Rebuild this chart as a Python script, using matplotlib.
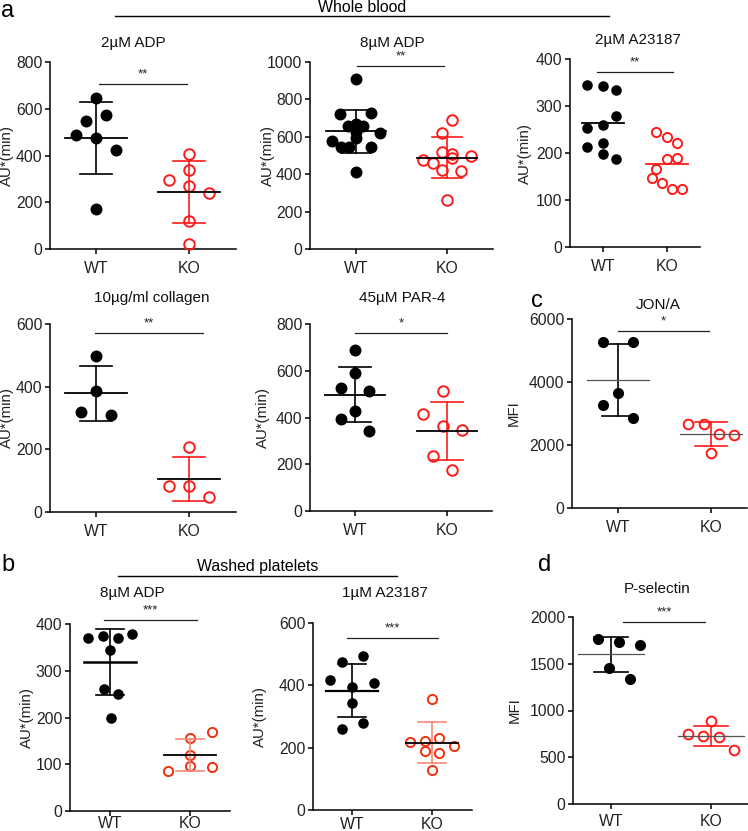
import numpy as np
import matplotlib
matplotlib.use('Agg')
import matplotlib.pyplot as plt
from matplotlib.lines import Line2D

plt.rcParams['font.family'] = ['Liberation Sans', 'DejaVu Sans']

W, H = 748, 831
fig = plt.figure(figsize=(W / 100, H / 100), dpi=100)

groups = ['WT', 'KO']

# ---------------- data ----------------
adp2_wt = [646, 548, 575, 489, 476, 422, 170]
adp2_wt_dx = [0, -0.11, 0.11, -0.22, 0, 0.22, 0]
adp2_ko = [408, 339, 297, 271, 240, 120, 20]
adp2_ko_dx = [0, 0, -0.22, 0, 0.22, 0, 0]

adp8_wt = [909, 720, 726, 660, 667, 660, 627, 619, 578, 547, 547, 547, 410, 592]
adp8_wt_dx = [0, -0.18, 0.17, -0.09, 0, 0.08, 0, 0.26, -0.26, -0.17, -0.08, 0.17, 0, 0]
adp8_ko = [690, 622, 520, 506, 488, 499, 476, 461, 422, 417, 262]
adp8_ko_dx = [0.05, -0.05, -0.05, 0.05, 0.05, 0.26, -0.26, -0.15, -0.05, 0.15, 0]

a23_2_wt = [345, 343, 333, 279, 254, 259, 213, 221, 198, 188]
a23_2_wt_dx = [-0.245, 0, 0.21, 0.21, -0.245, 0, -0.245, 0, 0, 0.21]
a23_2_ko = [245, 235, 221, 187, 190, 167, 146, 136, 124, 124]
a23_2_ko_dx = [-0.17, 0, 0.16, 0, 0.16, -0.17, -0.24, -0.08, 0.08, 0.24]

coll_wt = [499, 385, 320, 310]
coll_wt_dx = [0, 0, -0.166, 0.166]
coll_ko = [206, 82, 82, 47]
coll_ko_dx = [0, -0.22, 0, 0.22]

par4_wt = [687, 589, 528, 515, 429, 392, 344]
par4_wt_dx = [0, 0, -0.156, 0.156, 0, -0.156, 0.156]
par4_ko = [515, 414, 365, 347, 235, 175]
par4_ko_dx = [-0.04, -0.26, -0.04, 0.16, -0.15, 0.05]

jon_wt = [5267, 5257, 3664, 3260, 2846]
jon_wt_dx = [-0.16, 0.16, 0, -0.16, 0.16]
jon_ko = [2665, 2665, 2347, 2304, 1731]
jon_ko_dx = [-0.245, -0.08, 0.09, 0.25, 0]

wadp8_wt = [371, 375, 369, 379, 344, 261, 251, 198]
wadp8_wt_dx = [-0.27, -0.09, 0.1, 0.28, 0, -0.08, 0.1, 0.01]
wadp8_ko = [157, 168, 120, 86, 96, 94]
wadp8_ko_dx = [0, 0.27, 0, -0.27, 0, 0.27]

wa23_wt = [493, 474, 418, 407, 395, 342, 278, 259]
wa23_wt_dx = [0.14, -0.13, -0.27, 0.27, 0, 0, 0.14, -0.13]
wa23_ko = [356, 217, 222, 230, 205, 189, 182, 128]
wa23_ko_dx = [0, -0.275, -0.09, 0.09, 0.275, -0.09, 0.09, 0]

psel_wt = [1769, 1733, 1705, 1459, 1342]
psel_wt_dx = [-0.127, 0.083, 0.29, -0.02, 0.19]
psel_ko = [886, 744, 726, 712, 577]
psel_ko_dx = [0, -0.227, -0.077, 0.083, 0.233]

RED = '#ff1a1a'
RED2 = '#f2300f'
SALMON = '#f58a78'


def fx(px):
    return px / W


def fy(py):
    return 1 - py / H


def panel(L, R, T, B, wtpx, kopx, ymax, ystep, title, tpos, ylabel, ylx,
          wt, wtdx, ko, kodx, sig, stars, ms=8.6, red=RED,
          wt_err='k', ko_err=RED, wt_mean='k', ko_mean='k', mean_lw=1.3,
          err=True, wt_mean_lw=None, xpad=5):
    ax = fig.add_axes([fx(L), fy(B), (R - L) / W, (B - T) / H])
    sp = kopx - wtpx
    ax.set_xlim((L - wtpx) / sp, (R - wtpx) / sp)
    ax.set_ylim(0, ymax)
    ax.set_yticks(np.arange(0, ymax + 1, ystep))
    ax.set_xticks([0, 1])
    ax.set_xticklabels(groups)
    for s in ['top', 'right']:
        ax.spines[s].set_visible(False)
    for s in ['left', 'bottom']:
        ax.spines[s].set_linewidth(1.1)
    ax.tick_params(axis='both', length=3.5, width=1.1, labelsize=11.3,
                   labelcolor='#222222', pad=2)
    ax.tick_params(axis='x', pad=xpad)
    ax.set_ylabel(ylabel, fontsize=10.8, color='#222222')
    ax.yaxis.label.set_va('center')
    ax.yaxis.set_label_coords((ylx - L) / (R - L), 0.5)
    ax.patch.set_alpha(0)

    ax.plot(0 + np.array(wtdx), wt, 'o', ms=ms, color='k', mec='k',
            mew=0, zorder=3, clip_on=False)
    ax.plot(1 + np.array(kodx), ko, 'o', ms=ms - 1.0, mfc='none', mec=red,
            mew=1.4, zorder=3, clip_on=False)

    for x, vals, ec, mc, mlw in [(0, wt, wt_err, wt_mean, wt_mean_lw or mean_lw),
                                 (1, ko, ko_err, ko_mean, mean_lw)]:
        m = np.mean(vals)
        sd = np.std(vals, ddof=1)
        if err:
            ax.plot([x, x], [m - sd, m + sd], color=ec, lw=1.2, zorder=4)
            for yy in (m - sd, m + sd):
                ax.plot([x - 0.17, x + 0.17], [yy, yy], color=ec, lw=1.2, zorder=4)
        ax.plot([x - 0.33, x + 0.33], [m, m], color=mc, lw=mlw, zorder=5)

    fig.text(fx(tpos[0]), fy(tpos[1]), title, ha='center', va='center',
             fontsize=11, color='#111111')
    x1, x2, ys = sig
    fig.add_artist(Line2D([fx(x1), fx(x2)], [fy(ys), fy(ys)], color='#222222',
                          lw=0.9, transform=fig.transFigure))
    fig.text(fx((x1 + x2) / 2), fy(ys - 4), stars, ha='center', va='bottom',
             fontsize=9.5, color='#222222')
    return ax


panel(50, 236, 62, 249, 96, 189, 800, 200, '2µM ADP', (133, 43), 'AU*(min)', 7,
      adp2_wt, adp2_wt_dx, adp2_ko, adp2_ko_dx, (99, 187, 84), '**')
panel(310, 493, 62, 249, 356, 447, 1000, 200, '8µM ADP', (392, 43), 'AU*(min)', 268,
      adp8_wt, adp8_wt_dx, adp8_ko, adp8_ko_dx, (357, 444, 66), '**')
panel(570, 700, 59, 247, 603, 667, 400, 100, '2µM A23187', (638, 40), 'AU*(min)', 525,
      a23_2_wt, a23_2_wt_dx, a23_2_ko, a23_2_ko_dx, (597, 673, 72), '**',
      ms=7.6, err=False, ko_mean=RED)
panel(50, 236, 324, 512, 96, 189, 600, 200, '10µg/ml collagen', (152, 298), 'AU*(min)', 7,
      coll_wt, coll_wt_dx, coll_ko, coll_ko_dx, (95, 203, 333), '**')
panel(310, 492, 324, 511, 355, 447, 800, 200, '45µM PAR-4', (402, 298), 'AU*(min)', 263,
      par4_wt, par4_wt_dx, par4_ko, par4_ko_dx, (355, 447, 333), '*')
panel(572, 747, 319, 508, 618, 711, 6000, 2000, 'JON/A', (658, 305), 'MFI', 514,
      jon_wt, jon_wt_dx, jon_ko, jon_ko_dx, (618, 709, 331), '*',
      ms=8.0, wt_mean='#555555', ko_mean='#555555', mean_lw=0.9)
panel(70, 230, 624, 811, 110, 190, 400, 100, '8µM ADP', (132, 593), 'AU*(min)', 27,
      wadp8_wt, wadp8_wt_dx, wadp8_ko, wadp8_ko_dx, (104, 197, 620), '***',
      ms=7.6, red=RED2, ko_err=SALMON, wt_mean_lw=1.8, xpad=0.3)
panel(313, 472, 623, 810, 352, 432, 600, 200, '1µM A23187', (385, 593), 'AU*(min)', 260,
      wa23_wt, wa23_wt_dx, wa23_ko, wa23_ko_dx, (347, 438, 638), '***',
      ms=7.6, red=RED2, ko_err=SALMON, wt_mean_lw=1.6, xpad=1.5)
panel(573, 748, 617, 804, 611, 711, 2000, 500, 'P-selectin', (657, 589), 'MFI', 515,
      psel_wt, psel_wt_dx, psel_ko, psel_ko_dx, (623, 705, 622), '***',
      ms=8.0, wt_mean='#555555', ko_mean='#555555', mean_lw=0.9, xpad=4)

# group headers
fig.text(fx(8), fy(11), 'a', ha='center', va='center', fontsize=17)
fig.text(fx(362), fy(8), 'Whole blood', ha='center', va='center', fontsize=11.4)
fig.add_artist(Line2D([fx(115), fx(609)], [fy(16), fy(16)], color='k', lw=1.0,
                      transform=fig.transFigure))
fig.text(fx(8), fy(565), 'b', ha='center', va='center', fontsize=17)
fig.text(fx(258), fy(566), 'Washed platelets', ha='center', va='center', fontsize=11.4)
fig.add_artist(Line2D([fx(118), fx(397)], [fy(576), fy(576)], color='k', lw=1.0,
                      transform=fig.transFigure))
fig.text(fx(537), fy(301), 'c', ha='center', va='center', fontsize=17)
fig.text(fx(545), fy(565), 'd', ha='center', va='center', fontsize=17)

fig.savefig('out.png', dpi=100)
